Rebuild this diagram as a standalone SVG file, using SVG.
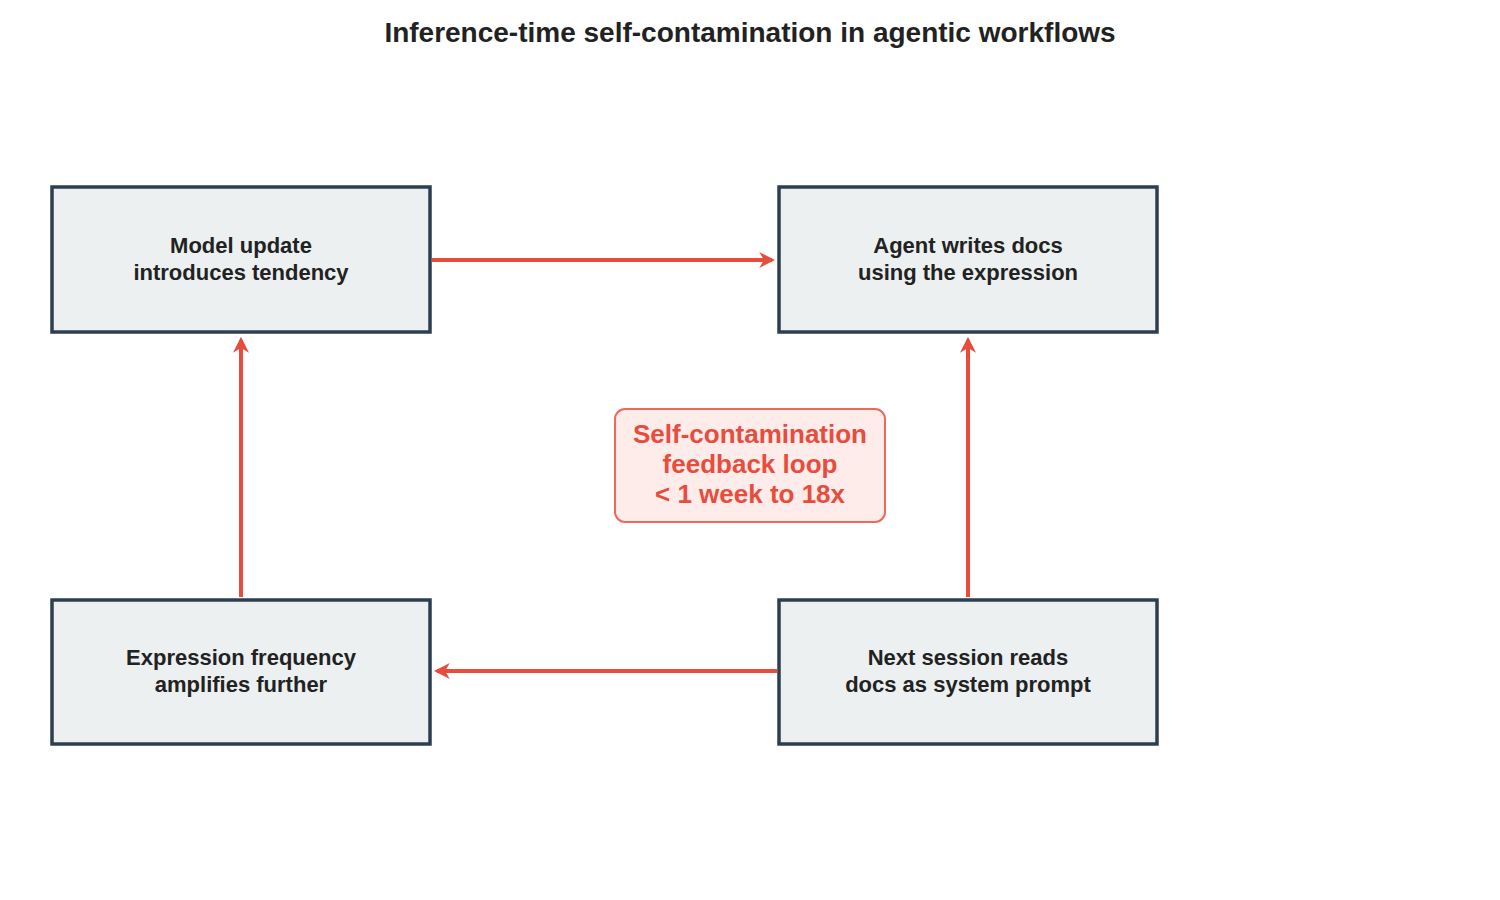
<svg xmlns="http://www.w3.org/2000/svg" width="1500" height="900" viewBox="0 0 1500 900">
<style>
.node rect{fill:#ecf0f1;stroke:#2c3e50;stroke-width:3.5}
.node text{font-family:"Liberation Sans",Arial,sans-serif;font-weight:bold;font-size:22px;fill:#222;text-anchor:middle}
.conn line{stroke:#e74c3c;stroke-width:4;marker-end:url(#ah)}
</style>
<defs>
<marker id="ah" viewBox="0 0 10 10" refX="8" refY="5" markerWidth="4" markerHeight="4" orient="auto" markerUnits="strokeWidth">
<path d="M0,0 L10,5 L0,10 L3,5 z" fill="#e74c3c"/>
</marker>
</defs>
<rect width="1500" height="900" fill="#fff"/>
<text x="750" y="42" text-anchor="middle" font-family="Liberation Sans,Arial,sans-serif" font-weight="bold" font-size="28" fill="#222">Inference-time self-contamination in agentic workflows</text>
<g id="n1" class="node"><rect x="52" y="187" width="378" height="145"/><text x="241" y="253">Model update</text><text x="241" y="280">introduces tendency</text></g>
<g id="n2" class="node"><rect x="779" y="187" width="378" height="145"/><text x="968" y="253">Agent writes docs</text><text x="968" y="280">using the expression</text></g>
<g id="n3" class="node"><rect x="779" y="600" width="378" height="144"/><text x="968" y="665">Next session reads</text><text x="968" y="692">docs as system prompt</text></g>
<g id="n4" class="node"><rect x="52" y="600" width="378" height="144"/><text x="241" y="665">Expression frequency</text><text x="241" y="692">amplifies further</text></g>
<g id="conns" class="conn">
<line x1="432" y1="260" x2="772" y2="260"/>
<line x1="968" y1="597" x2="968" y2="340"/>
<line x1="777" y1="671" x2="437" y2="671"/>
<line x1="241" y1="597" x2="241" y2="340"/>
</g>
<g id="center"><rect x="615" y="409" width="270" height="113" rx="10" fill="#fdecea" stroke="#ec6a5c" stroke-width="2"/>
<g font-family="Liberation Sans,Arial,sans-serif" font-weight="bold" font-size="26" fill="#e74c3c" text-anchor="middle"><text x="750" y="443">Self-contamination</text><text x="750" y="473">feedback loop</text><text x="750" y="503">&lt; 1 week to 18x</text></g></g>
</svg>
